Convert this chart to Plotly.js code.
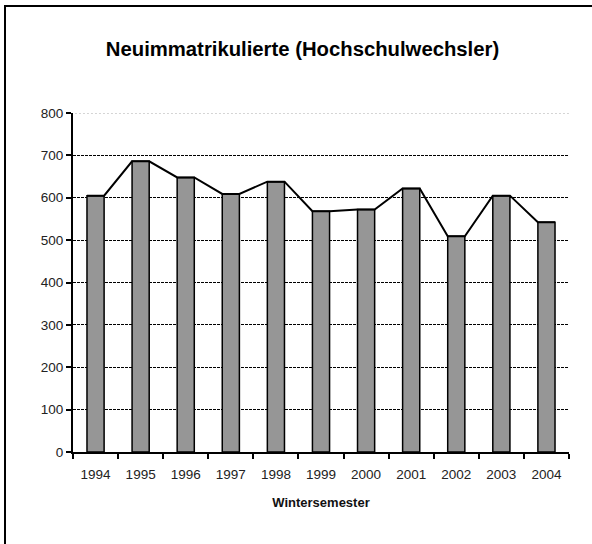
<!DOCTYPE html>
<html>
<head>
<meta charset="utf-8">
<script src="https://cdn.plot.ly/plotly-3.0.1.min.js"></script>
<style>
  html, body { margin: 0; padding: 0; background: #fff; overflow: hidden; }
  #wrap { position: relative; width: 592px; height: 544px; }
  #chart { width: 592px; height: 544px; }
  #frame { position: absolute; left: 4px; top: 5px; width: 700px; height: 700px;
           border-left: 2px solid #000; border-top: 2px solid #000; pointer-events: none; }
</style>
</head>
<body>
<div id="wrap">
  <div id="chart"></div>
  <div id="frame"></div>
</div>
<script>
// Data
const years = ["1994", "1995", "1996", "1997", "1998", "1999", "2000", "2001", "2002", "2003", "2004"];
const values = [605, 686, 648, 609, 638, 568, 572, 622, 509, 605, 542];
const yTicks = [0, 100, 200, 300, 400, 500, 600, 700, 800];

const barWidth = 0.38;

// Line connecting bar-top corners (derived from data and bar width)
const lineX = [];
const lineY = [];
values.forEach(function (v, i) {
  lineX.push(i - barWidth / 2, i + barWidth / 2);
  lineY.push(v, v);
});

const font = "Liberation Sans, Arial, sans-serif";

const traces = [
  {
    type: "bar",
    x: years,
    y: values,
    width: barWidth,
    marker: { color: "#969696", line: { color: "#000", width: 1.5 } },
    hoverinfo: "x+y"
  },
  {
    type: "scatter",
    mode: "lines",
    x: lineX,
    y: lineY,
    xaxis: "x2",
    line: { color: "#000", width: 2 },
    hoverinfo: "skip"
  }
];

const topTick = yTicks[yTicks.length - 1];

const layout = {
  width: 592,
  height: 544,
  margin: { l: 72.7, r: 22.7, t: 113.3, b: 91.7, pad: 0 },
  paper_bgcolor: "#fff",
  plot_bgcolor: "#fff",
  showlegend: false,
  bargap: 0,
  font: { family: font, color: "#000" },
  title: {
    text: "Neuimmatrikulierte (Hochschulwechsler)",
    font: { family: font, size: 20.3, color: "#000", weight: "bold" },
    x: 0.511, xanchor: "center",
    y: 0.91, yanchor: "middle"
  },
  xaxis: {
    type: "category",
    tickson: "boundaries",
    ticks: "outside",
    ticklen: 5,
    tickwidth: 2,
    tickcolor: "#000",
    showline: true,
    linecolor: "#000",
    linewidth: 2,
    showgrid: false,
    zeroline: false,
    tickfont: { family: font, size: 13.5, color: "#222" },
    ticklabelstandoff: 9,
    title: {
      text: "Wintersemester",
      font: { family: font, size: 13, color: "#111", weight: "bold" },
      standoff: 17
    }
  },
  xaxis2: {
    overlaying: "x",
    range: [-0.5, years.length - 0.5],
    visible: false
  },
  yaxis: {
    range: [0, topTick],
    tickvals: yTicks,
    ticks: "outside",
    ticklen: 5,
    tickwidth: 2,
    tickcolor: "#000",
    showline: true,
    linecolor: "#000",
    linewidth: 2,
    showgrid: true,
    gridcolor: "#000",
    gridwidth: 1,
    griddash: "3px,1px",
    zeroline: false,
    tickfont: { family: font, size: 13.5, color: "#222" }
  },
  shapes: [
    {
      type: "line", xref: "paper", yref: "y",
      x0: 0.004, x1: 1, y0: topTick, y1: topTick,
      line: { color: "#fff", width: 2 }, layer: "above"
    },
    {
      type: "line", xref: "paper", yref: "y",
      x0: 0.004, x1: 1, y0: topTick, y1: topTick,
      line: { color: "#aaa", width: 1, dash: "2px,2px" }, layer: "above"
    }
  ]
};

Plotly.newPlot("chart", traces, layout, { displayModeBar: false, staticPlot: true });
</script>
</body>
</html>
